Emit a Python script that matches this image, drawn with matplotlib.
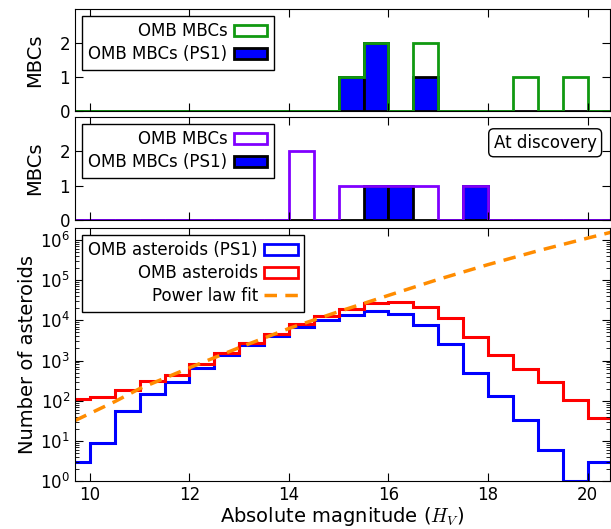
import numpy as np
import matplotlib
matplotlib.use("Agg")
import matplotlib.pyplot as plt
from matplotlib.patches import Patch
from matplotlib.lines import Line2D

plt.rcParams['mathtext.fontset'] = 'cm'
plt.rcParams['lines.scale_dashes'] = False
plt.rcParams['xtick.direction'] = 'in'
plt.rcParams['ytick.direction'] = 'in'
plt.rcParams['xtick.top'] = True
plt.rcParams['ytick.right'] = True
plt.rcParams['xtick.major.size'] = 6
plt.rcParams['ytick.major.size'] = 6
plt.rcParams['ytick.minor.size'] = 3
plt.rcParams['font.size'] = 12

# bin edges (absolute magnitude, 0.5 mag bins)
edges = np.arange(9.5, 20.51, 0.5)

# MBC counts per bin (current H)
mbc_all = [0, 0, 0, 0, 0, 0, 0, 0, 0, 0, 0, 1, 2, 0, 2, 0, 0, 0, 1, 0, 1, 0]
mbc_ps1 = [0, 0, 0, 0, 0, 0, 0, 0, 0, 0, 0, 1, 2, 0, 1, 0, 0, 0, 0, 0, 0, 0]

# MBC counts per bin (H at discovery)
disc_all = [0, 0, 0, 0, 0, 0, 0, 0, 0, 2, 0, 1, 1, 1, 1, 0, 1, 0, 0, 0, 0, 0]
disc_ps1 = [0, 0, 0, 0, 0, 0, 0, 0, 0, 0, 0, 0, 1, 1, 0, 0, 1, 0, 0, 0, 0, 0]

# outer main belt asteroids per bin
omb_ps1 = [3, 9, 55, 150, 300, 650, 1340, 2460, 4200, 6700, 10000, 13900,
           16800, 14500, 7900, 2600, 490, 129, 33, 6, 1, 3]
omb_all = [108, 124, 189, 303, 445, 830, 1520, 2760, 4600, 8000, 13200, 19400,
           27000, 29000, 22000, 11500, 3800, 1340, 600, 290, 102, 37]

# power law fit
fit_h = [9.7, 10.5, 11, 12, 13, 14, 15, 16, 17, 18, 19, 20, 20.5]
fit_n = [32, 95, 200, 660, 2100, 6300, 16600, 42000, 105000, 245000, 540000,
         1120000, 1600000]

blue = '#0000ff'
green = '#119911'
purple = '#8000ff'
orange = '#ff8c00'
dash = (0, (9, 6))

fig = plt.figure(figsize=(6.11, 5.29), dpi=100)
left, width = 0.1227, 0.8756
ax1 = fig.add_axes([left, 0.7902, width, 0.1928])
ax2 = fig.add_axes([left, 0.5841, width, 0.1947], sharex=ax1)
ax3 = fig.add_axes([left, 0.0907, width, 0.4783], sharex=ax1)

lo = edges[:-1]

# top panel
ax1.bar(lo, mbc_ps1, width=0.5, align='edge', color=blue, edgecolor='black', lw=2)
ax1.stairs(mbc_all, edges, color=green, lw=2, baseline=0)
ax1.set_ylim(0, 3)
ax1.set_yticks([0, 1, 2])
ax1.set_ylabel('MBCs', fontsize=14, labelpad=11)
h1 = [Patch(facecolor='white', edgecolor=green, lw=2),
      Patch(facecolor=blue, edgecolor='black', lw=2)]
ax1.legend(h1, ['OMB MBCs', 'OMB MBCs (PS1)'], loc='upper left', markerfirst=False,
           fancybox=False, edgecolor='black', framealpha=1, fontsize=12,
           handletextpad=0.4, borderaxespad=0.4, labelspacing=0.3)
plt.setp(ax1.get_xticklabels(), visible=False)

# middle panel
ax2.bar(lo, disc_ps1, width=0.5, align='edge', color=blue, edgecolor='black', lw=2)
ax2.stairs(disc_all, edges, color=purple, lw=2, baseline=0)
ax2.set_ylim(0, 3)
ax2.set_yticks([0, 1, 2])
ax2.set_ylabel('MBCs', fontsize=14, labelpad=11)
h2 = [Patch(facecolor='white', edgecolor=purple, lw=2),
      Patch(facecolor=blue, edgecolor='black', lw=2)]
ax2.legend(h2, ['OMB MBCs', 'OMB MBCs (PS1)'], loc='upper left', markerfirst=False,
           fancybox=False, edgecolor='black', framealpha=1, fontsize=12,
           handletextpad=0.4, borderaxespad=0.4, labelspacing=0.3)
ax2.text(0.975, 0.75, 'At discovery', transform=ax2.transAxes, ha='right', va='center',
         fontsize=12, bbox=dict(boxstyle='round,pad=0.3', fc='white', ec='black'))
plt.setp(ax2.get_xticklabels(), visible=False)

# bottom panel
ax3.stairs(omb_ps1, edges, color=blue, lw=2.2, baseline=None)
ax3.stairs(omb_all, edges, color='red', lw=2.2, baseline=None)
ax3.plot(fit_h, fit_n, color=orange, lw=2.5, ls=dash)
ax3.set_yscale('log')
ax3.set_ylim(1, 2e6)
ax3.set_xlim(9.7, 20.45)
ax3.set_xticks([10, 12, 14, 16, 18, 20])
ax3.set_xlabel('Absolute magnitude ($H_V$)', fontsize=14, labelpad=1)
ax3.set_ylabel('Number of asteroids', fontsize=14, labelpad=2)
h3 = [Patch(facecolor='white', edgecolor=blue, lw=2),
      Patch(facecolor='white', edgecolor='red', lw=2),
      Line2D([], [], color=orange, lw=2.5, ls=dash)]
ax3.legend(h3, ['OMB asteroids (PS1)', 'OMB asteroids', 'Power law fit'],
           loc='upper left', markerfirst=False, fancybox=False, edgecolor='black',
           framealpha=1, fontsize=12, handletextpad=0.4, borderaxespad=0.4,
           labelspacing=0.3)

fig.savefig('out.png', dpi=100)
